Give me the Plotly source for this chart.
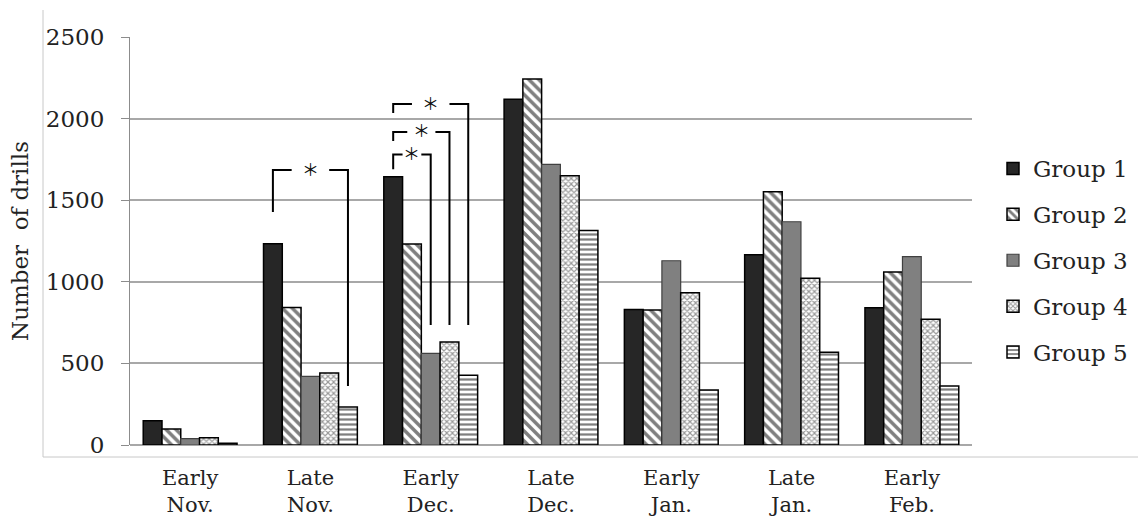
import plotly.graph_objects as go

categories = ["Early<br>Nov.", "Late<br>Nov.", "Early<br>Dec.", "Late<br>Dec.",
              "Early<br>Jan.", "Late<br>Jan.", "Early<br>Feb."]
group_names = ["Group 1", "Group 2", "Group 3", "Group 4", "Group 5"]
group1 = [149, 1233, 1644, 2118, 831, 1166, 841]
group2 = [98, 843, 1232, 2243, 827, 1552, 1060]
group3 = [39, 421, 562, 1720, 1129, 1368, 1154]
group4 = [45, 441, 631, 1650, 933, 1021, 770]
group5 = [10, 233, 427, 1315, 337, 568, 361]
y_ticks = [0, 500, 1000, 1500, 2000, 2500]
# significance brackets: (category index, group a, group b, top, left bottom, right bottom)
brackets = [
    (1, 0, 4, 1685, 1428, 361),
    (2, 0, 2, 1780, 1689, 735),
    (2, 0, 3, 1918, 1863, 735),
    (2, 0, 4, 2089, 2034, 735),
]

series = [group1, group2, group3, group4, group5]
FONT = "DejaVu Serif"
W, H = 1138, 518
L, R, T, B = 130, 166, 37, 73
PW, PH = W - L - R, H - T - B
BARGAP = 0.22
NG = len(series)


def px_x(px):
    return (px - L) / PW


def px_y(py):
    return (H - B - py) / PH


styles = [
    dict(color="#262626", line=dict(color="#000000", width=1.5)),
    dict(color="white", line=dict(color="#000000", width=1.5),
         pattern=dict(shape="\\", fgcolor="#000000", bgcolor="white", size=7,
                      solidity=0.5, fillmode="overlay")),
    dict(color="#808080", line=dict(color="#404040", width=1.2)),
    dict(color="white", line=dict(color="#000000", width=1.5),
         pattern=dict(shape="x", fgcolor="#333333", bgcolor="white", size=4,
                      solidity=0.5, fillmode="overlay")),
    dict(color="white", line=dict(color="#000000", width=1.5),
         pattern=dict(shape="-", fgcolor="#000000", bgcolor="white", size=5,
                      solidity=0.45, fillmode="overlay")),
]

fig = go.Figure()
xs = list(range(len(categories)))
for i, (name, vals) in enumerate(zip(group_names, series)):
    fig.add_trace(go.Bar(x=xs, y=vals, name=name, marker=styles[i],
                         legendgroup=name))

bw = (1 - BARGAP) / NG


def bar_center(cat, g):
    return cat - (1 - BARGAP) / 2 + (g + 0.5) * bw


shapes = []
annotations = []
for cat, ga, gb, top, lb, rb in brackets:
    xl = bar_center(cat, ga)
    xr = bar_center(cat, gb)
    wdt = xr - xl
    mid = (xl + xr) / 2
    ln = dict(color="#000000", width=2)
    shapes.append(dict(type="path", xref="x", yref="y",
                       path=f"M{xl},{lb} L{xl},{top} L{mid - 0.25 * wdt},{top}",
                       line=ln))
    shapes.append(dict(type="path", xref="x", yref="y",
                       path=f"M{mid + 0.25 * wdt},{top} L{xr},{top} L{xr},{rb}",
                       line=ln))
    annotations.append(dict(x=mid, y=top, xref="x", yref="y", text="＊",
                            showarrow=False, yshift=2,
                            font=dict(family="Noto Sans CJK JP", size=17,
                                      color="#111111")))

# outer frame (left and bottom edges)
frame = dict(color="#c8c8c8", width=1)
shapes.append(dict(type="line", xref="paper", yref="paper",
                   x0=px_x(43), x1=px_x(43), y0=px_y(10), y1=px_y(457),
                   line=frame))
shapes.append(dict(type="line", xref="paper", yref="paper",
                   x0=px_x(43), x1=px_x(1138), y0=px_y(457), y1=px_y(457),
                   line=frame))

fig.update_layout(
    width=W, height=H,
    margin=dict(l=L, r=R, t=T, b=B, pad=0, autoexpand=False),
    paper_bgcolor="white", plot_bgcolor="white",
    barmode="group", bargap=BARGAP, bargroupgap=0,
    font=dict(family=FONT, size=23, color="#222222"),
    shapes=shapes, annotations=annotations,
    legend=dict(x=px_x(993), y=px_y(147), xanchor="left", yanchor="top",
                traceorder="grouped", tracegroupgap=13, itemwidth=30,
                bgcolor="rgba(0,0,0,0)",
                font=dict(family=FONT, size=23, color="#222222")),
    xaxis=dict(range=[-0.5, len(categories) - 0.5], tickmode="array",
               tickvals=xs, ticktext=categories, showgrid=False,
               showline=False, zeroline=False, ticks="", automargin=False,
               ticklabelstandoff=18,
               tickfont=dict(family=FONT, size=21, color="#222222")),
    yaxis=dict(range=[0, 2500], tickvals=y_ticks, showgrid=True,
               gridcolor="#a8a8a8", gridwidth=1.5, zeroline=True,
               zerolinecolor="#a8a8a8", zerolinewidth=1.5, automargin=False,
               showline=True, linecolor="#8c8c8c", linewidth=1.2,
               ticks="outside", ticklen=8, tickcolor="#8c8c8c", tickwidth=1.2,
               ticklabelstandoff=12,
               tickfont=dict(family=FONT, size=23, color="#222222"),
               title=dict(text="Number  of drills", standoff=10,
                          font=dict(family=FONT, size=23, color="#222222"))),
)

fig.write_html("out.html", config={"displayModeBar": False},
               post_script="document.body.style.margin='0';"
                           "document.body.style.overflow='hidden';")
